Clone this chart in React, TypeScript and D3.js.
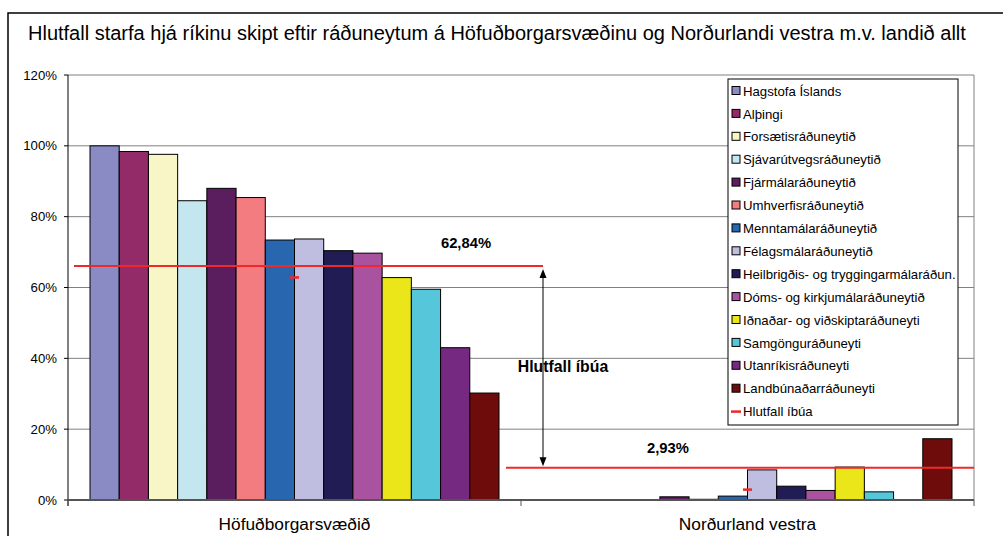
import React from "react";
import * as d3 from "d3";

const categories = ["Höfuðborgarsvæðið", "Norðurland vestra"];
const seriesNames = [
  "Hagstofa Íslands",
  "Alþingi",
  "Forsætisráðuneytið",
  "Sjávarútvegsráðuneytið",
  "Fjármálaráðuneytið",
  "Umhverfisráðuneytið",
  "Menntamálaráðuneytið",
  "Félagsmálaráðuneytið",
  "Heilbrigðis- og tryggingarmálaráðun.",
  "Dóms- og kirkjumálaráðuneytið",
  "Iðnaðar- og viðskiptaráðuneyti",
  "Samgönguráðuneyti",
  "Utanríkisráðuneyti",
  "Landbúnaðarráðuneyti",
];
const seriesColors = [
  "#8A8BC4", "#942B69", "#F8F6C6", "#C3E6EF", "#5A1E5E", "#F27C80", "#2866B0",
  "#C0BEE0", "#211C53", "#A9529F", "#EBE61A", "#56C6DA", "#762980", "#6E0C0C",
];
const valuesCapital = [100, 98.4, 97.6, 84.5, 88.0, 85.4, 73.4, 73.7, 70.4, 69.7, 62.8, 59.5, 43.0, 30.2];
const valuesNorth = [0, 0, 0, 0, 0.9, 0.2, 1.1, 8.5, 3.9, 2.7, 9.3, 2.3, 0, 17.3];
const seriesValues = seriesNames.map((_, i) => [valuesCapital[i], valuesNorth[i]]);
const populationShare = [62.84, 2.93];
const populationLabels = ["62,84%", "2,93%"];
const annotationLineValues = [66.1, 9.1];
const yTicks = [0, 20, 40, 60, 80, 100, 120];
const lineLegend = "Hlutfall íbúa";
const title =
  "Hlutfall starfa hjá ríkinu skipt eftir ráðuneytum á Höfuðborgarsvæðinu og Norðurlandi vestra m.v. landið allt";

const W = 1003;
const H = 536;
const FONT = "'Liberation Sans', Arial, sans-serif";
const RED = "#F02828";

export default function App() {
  const left = 68;
  const right = 974;
  const top = 75;
  const bottom = 500;

  const y = d3.scaleLinear().domain([0, 120]).range([bottom, top]);
  const x0 = d3.scaleBand<string>().domain(categories).range([left, right]).paddingInner(0).paddingOuter(0);
  const inner = d3
    .scaleBand<number>()
    .domain(seriesNames.map((_, i) => i))
    .range([22, x0.bandwidth() - 22])
    .padding(0);

  const legendX = 728;
  const legendY = 79;
  const legendW = 230;
  const legendH = 346;
  const legendStep = 22.9;
  const legendItems = [...seriesNames, lineLegend];

  const annSpans = [
    [74, 543],
    [506, right],
  ];

  return (
    <svg
      width={W}
      height={H}
      style={{ position: "absolute", left: 0, top: 0, background: "#fff" }}
      fontFamily={FONT}
    >
      <rect x={0} y={0} width={W} height={H} fill="#fff" />
      <rect x={8} y={13} width={W + 20} height={H + 20} fill="none" stroke="#000" strokeWidth={1.5} />
      <text x={28} y={40} fontSize={20} fill="#000">
        {title}
      </text>

      {yTicks.filter((t) => t > 0).map((t) => (
        <line key={t} x1={left} x2={right} y1={y(t)} y2={y(t)} stroke="#808080" strokeWidth={1} />
      ))}
      <line x1={right} x2={right} y1={top} y2={bottom} stroke="#808080" strokeWidth={1} />

      {categories.map((c, ci) => (
        <g key={c} transform={`translate(${x0(c)},0)`}>
          {seriesNames.map((s, si) => {
            const v = seriesValues[si][ci];
            if (v <= 0) return null;
            return (
              <rect
                key={s}
                x={inner(si)}
                y={y(v)}
                width={inner.bandwidth()}
                height={y(0) - y(v)}
                fill={seriesColors[si]}
                stroke="#000"
                strokeWidth={1}
              />
            );
          })}
        </g>
      ))}

      <line x1={left} x2={left} y1={top} y2={bottom + 6} stroke="#000" strokeWidth={1} />
      {yTicks.map((t) => (
        <g key={t}>
          <line x1={left - 4} x2={left} y1={y(t)} y2={y(t)} stroke="#000" />
          <text x={57} y={y(t) + 4.6} fontSize={13.2} textAnchor="end" fill="#000">
            {`${t}%`}
          </text>
        </g>
      ))}

      <line x1={left} x2={right} y1={bottom} y2={bottom} stroke="#555" strokeWidth={2} />
      {[left, x0(categories[1])!, right].map((tx, i) => (
        <line key={i} x1={tx} x2={tx} y1={bottom} y2={bottom + 6} stroke="#555" strokeWidth={1} />
      ))}
      {categories.map((c) => (
        <text key={c} x={x0(c)! + x0.bandwidth() / 2} y={530} fontSize={17.3} textAnchor="middle" fill="#000">
          {c}
        </text>
      ))}

      {annotationLineValues.map((v, i) => (
        <line key={i} x1={annSpans[i][0]} x2={annSpans[i][1]} y1={y(v)} y2={y(v)} stroke={RED} strokeWidth={2} />
      ))}

      {categories.map((c, i) => {
        const cx = x0(c)! + x0.bandwidth() / 2;
        return (
          <line key={c} x1={cx - 4.5} x2={cx + 4.5} y1={y(populationShare[i])} y2={y(populationShare[i])} stroke={RED} strokeWidth={2.5} />
        );
      })}

      <line x1={543} x2={543} y1={y(annotationLineValues[0]) + 6} y2={y(annotationLineValues[1]) - 4} stroke="#000" strokeWidth={1} />
      <path d={`M543,${y(annotationLineValues[0]) + 3} l-3.5,9 h7 Z`} fill="#000" />
      <path d={`M543,${y(annotationLineValues[1]) - 1.5} l-3.5,-9 h7 Z`} fill="#000" />
      <text x={563} y={372} fontSize={15.8} fontWeight="bold" textAnchor="middle" fill="#000">
        {lineLegend}
      </text>
      <text x={466} y={248} fontSize={14.8} fontWeight="bold" textAnchor="middle" fill="#000">
        {populationLabels[0]}
      </text>
      <text x={668} y={453} fontSize={14.8} fontWeight="bold" textAnchor="middle" fill="#000">
        {populationLabels[1]}
      </text>

      <rect x={legendX} y={legendY} width={legendW} height={legendH} fill="#fff" stroke="#000" strokeWidth={1} />
      {legendItems.map((name, i) => {
        const cy = 91 + i * legendStep;
        const isLine = i === seriesNames.length;
        return (
          <g key={name}>
            {isLine ? (
              <line x1={731} x2={741} y1={cy} y2={cy} stroke={RED} strokeWidth={2.5} />
            ) : (
              <rect x={732} y={cy - 4.5} width={8} height={8} fill={seriesColors[i]} stroke="#000" strokeWidth={1} />
            )}
            <text x={743} y={cy + 4.6} fontSize={13.2} fill="#000">
              {name}
            </text>
          </g>
        );
      })}
    </svg>
  );
}
